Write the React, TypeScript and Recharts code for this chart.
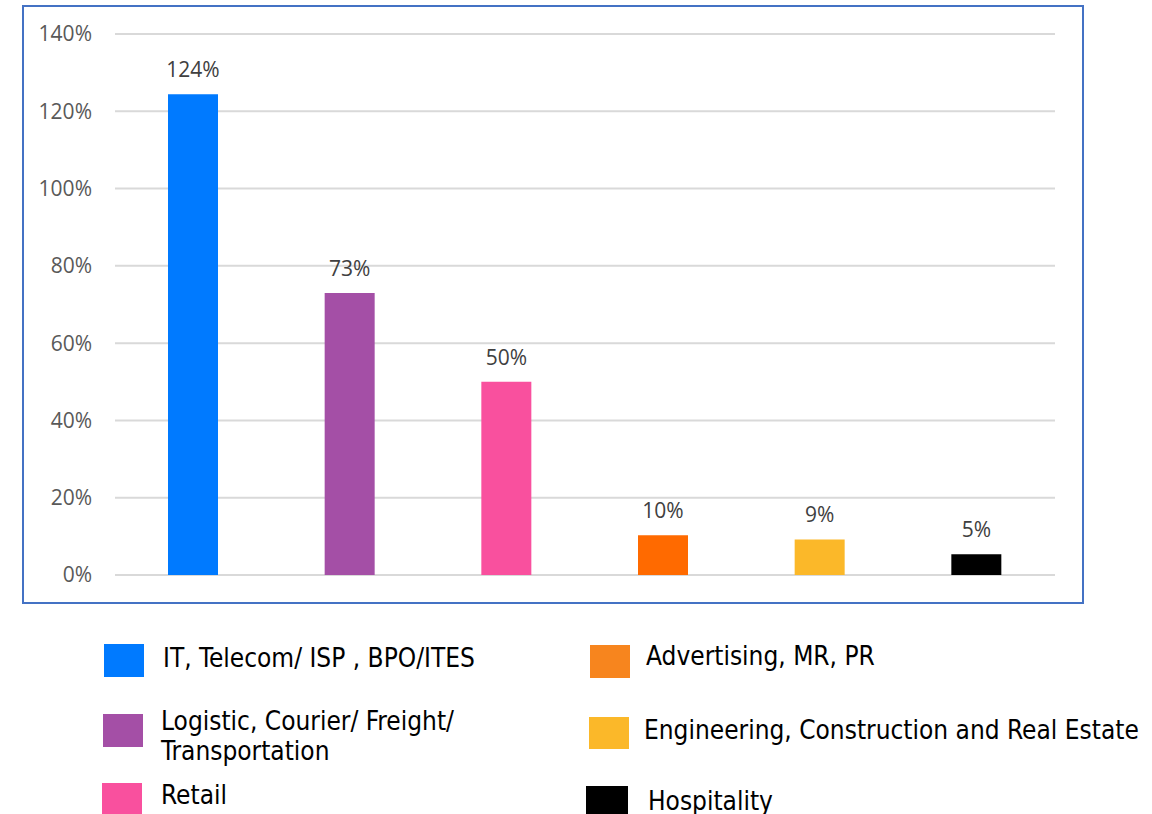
import { Bar, BarChart, CartesianGrid, Cell, LabelList, XAxis, YAxis } from "recharts";

const categories = [
  "IT, Telecom/ ISP , BPO/ITES",
  "Logistic, Courier/ Freight/ Transportation",
  "Retail",
  "Advertising, MR, PR",
  "Engineering, Construction and Real Estate",
  "Hospitality",
];
const shares = [1.244, 0.73, 0.5, 0.103, 0.092, 0.054];
const barColors = ["#007AFF", "#A44FA6", "#F9509E", "#FF6A00", "#FBB829", "#000000"];
const legendColors = ["#007AFF", "#A44FA6", "#F9509E", "#F7851E", "#FBB829", "#000000"];
const yTicks = [0, 0.2, 0.4, 0.6, 0.8, 1.0, 1.2, 1.4];

const rows = categories.map((name, i) => ({ name, value: shares[i] }));

// legend layout (page px): swatch box + text box
const legendLayout = [
  { sx: 104, sy: 644, sw: 40, sh: 33, tx: 163, ty: 643, tw: 420 },
  { sx: 103, sy: 714, sw: 40, sh: 33, tx: 161, ty: 706, tw: 330 },
  { sx: 102, sy: 783, sw: 40, sh: 33, tx: 161, ty: 780, tw: 300 },
  { sx: 590, sy: 645, sw: 40, sh: 33, tx: 646, ty: 641, tw: 500 },
  { sx: 589, sy: 717, sw: 40, sh: 32, tx: 644, ty: 715, tw: 520 },
  { sx: 586, sy: 786, sw: 42, sh: 30, tx: 648, ty: 786, tw: 300 },
];

const pct = (v: number) => `${Math.round(v * 100)}%`;

export default function App() {
  return (
    <div style={{ position: "absolute", left: 0, top: 0, width: 1152, height: 814, background: "#fff", overflow: "hidden" }}>
      <div style={{ position: "absolute", left: 22, top: 5 }}>
        <BarChart width={1062} height={599} data={rows} margin={{ top: 29, right: 29, bottom: 29, left: 0 }} barSize={50}>
          <CartesianGrid vertical={false} stroke="#d9d9d9" strokeWidth={2} />
          <XAxis dataKey="name" hide />
          <YAxis
            domain={[0, 1.4]}
            ticks={yTicks}
            width={93}
            tickLine={false}
            axisLine={false}
            tickMargin={17}
            tickFormatter={(v) => pct(Number(v))}
            tick={{ fill: "#595959", fontSize: 21, fontFamily: "Open Sans" }}
          />
          <Bar dataKey="value" isAnimationActive={false}>
            {rows.map((_, i) => (
              <Cell key={i} fill={barColors[i]} />
            ))}
            <LabelList
              dataKey="value"
              position="top"
              offset={17}
              formatter={(v) => pct(Number(v))}
              style={{ fill: "#404040", fontSize: 21, fontFamily: "Open Sans" }}
            />
          </Bar>
        </BarChart>
      </div>
      <div
        style={{
          position: "absolute",
          left: 22,
          top: 5,
          width: 1062,
          height: 599,
          boxSizing: "border-box",
          border: "2px solid #4472C4",
          pointerEvents: "none",
        }}
      />
      {categories.map((name, i) => {
        const p = legendLayout[i];
        return (
          <div key={name}>
            <div style={{ position: "absolute", left: p.sx, top: p.sy, width: p.sw, height: p.sh, background: legendColors[i] }} />
            <div
              style={{
                position: "absolute",
                left: p.tx,
                top: p.ty,
                width: p.tw,
                fontFamily: "'DejaVu Sans Condensed', 'DejaVu Sans', sans-serif",
                fontSize: 26,
                lineHeight: "30px",
                color: "#000",
                whiteSpace: i === 1 ? "normal" : "nowrap",
              }}
            >
              {name}
            </div>
          </div>
        );
      })}
    </div>
  );
}
